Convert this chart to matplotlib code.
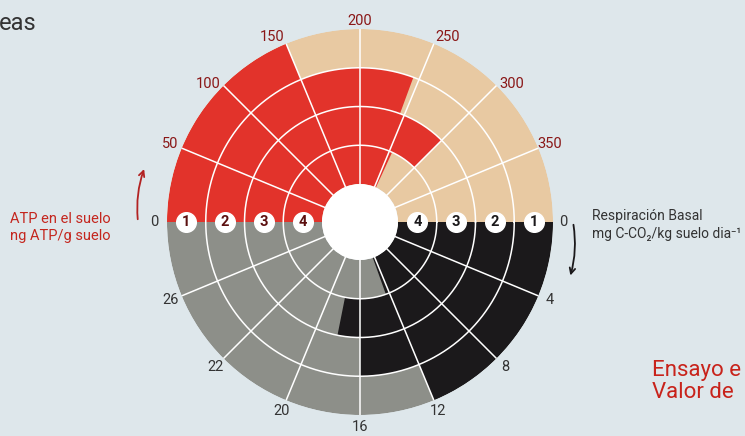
import matplotlib

matplotlib.use("Agg")
import matplotlib.pyplot as plt
import numpy as np

# ring labels, outermost first
rings = ["1", "2", "3", "4"]

# ATP en el suelo (top half), ng ATP/g suelo
atp_values = [150, 245, 300, 255]
atp_ticks = [0, 50, 100, 150, 200, 250, 300, 350]
atp_span = 400

# Respiracion basal (bottom half), mg C-CO2/kg suelo dia-1
resp_values = [12, 16, 18, 12.5]
resp_ticks = [0, 4, 8, 12, 16, 20, 24, 28]
resp_tick_labels = ["0", "4", "8", "12", "16", "20", "22", "26"]
resp_span = 32

BG = "#dee7eb"
RED = "#e2332b"
TAN = "#e8c9a2"
GRAY = "#8d8f89"
BLACK = "#1b191b"
DARK_RED = "#8a1717"
LABEL_RED = "#c4261e"
TEXT = "#333333"

W_PX, H_PX = 745, 436
CX, CY = 360, 222
R_OUT = 193
HOLE = 38
RING_W = (R_OUT - HOLE) / len(rings)
LAB_R = 205
FONT = ["Roboto", "DejaVu Sans"]


def atp_theta(v):
    return np.pi * (1 - v / atp_span)


def resp_theta(v):
    return -np.pi * v / resp_span


def main() -> None:
    plt.rcParams["font.family"] = FONT
    fig = plt.figure(figsize=(W_PX / 100, H_PX / 100), dpi=100)
    fig.patch.set_facecolor(BG)

    rect = [
        (CX - R_OUT) / W_PX,
        1 - (CY + R_OUT) / H_PX,
        2 * R_OUT / W_PX,
        2 * R_OUT / H_PX,
    ]
    ax = fig.add_axes(rect, projection="polar")
    ax.set_ylim(0, R_OUT)
    ax.set_axis_off()

    # half backgrounds
    ax.bar(np.pi / 2, R_OUT - HOLE, width=np.pi, bottom=HOLE, color=TAN, linewidth=0)
    ax.bar(-np.pi / 2, R_OUT - HOLE, width=np.pi, bottom=HOLE, color=GRAY, linewidth=0)

    for i, (a, r) in enumerate(zip(atp_values, resp_values)):
        bottom = R_OUT - (i + 1) * RING_W
        t0 = atp_theta(a)
        ax.bar(t0, RING_W, width=np.pi - t0, bottom=bottom, align="edge",
               color=RED, linewidth=0)
        t1 = resp_theta(r)
        ax.bar(t1, RING_W, width=-t1, bottom=bottom, align="edge",
               color=BLACK, linewidth=0)

    # grid
    th = np.linspace(0, 2 * np.pi, 500)
    for i in range(1, len(rings)):
        ax.plot(th, np.full_like(th, R_OUT - i * RING_W), color="white", lw=1.1)
    for t in atp_ticks[1:]:
        a = atp_theta(t)
        ax.plot([a, a], [HOLE, R_OUT], color="white", lw=1.1)
    for t in resp_ticks[1:]:
        a = resp_theta(t)
        ax.plot([a, a], [HOLE, R_OUT], color="white", lw=1.1)

    # centre hole
    ax.bar(0, HOLE, width=2 * np.pi, bottom=0, color="white", linewidth=0)

    # ring badges
    for i, lab in enumerate(rings):
        rm = R_OUT - (i + 0.5) * RING_W
        for theta, col in ((np.pi, "#5c1010"), (0.0, BLACK)):
            ax.scatter([theta], [rm], s=200, color="white", zorder=5, clip_on=False)
            ax.text(theta, rm, lab, ha="center", va="center", fontsize=10.5,
                    fontweight="bold", color=col, zorder=6)

    # tick labels
    ax.text(np.pi, LAB_R + 1, "0", ha="center", va="center", fontsize=10.5,
            color=TEXT)
    for t in atp_ticks[1:]:
        a = atp_theta(t)
        if np.radians(30) < a < np.radians(150) and t != 200:
            a += np.radians(2.8) * np.sign(a - np.pi / 2)
        rr = LAB_R - 4 if t == 200 else LAB_R
        ax.text(a, rr, str(t), ha="center", va="center", fontsize=10.5,
                color=DARK_RED)
    ax.text(0, LAB_R - 2, "0", ha="center", va="center", fontsize=10.5,
            color=TEXT)
    for t, lab in zip(resp_ticks[1:], resp_tick_labels[1:]):
        ax.text(resp_theta(t), LAB_R, lab, ha="center", va="center",
                fontsize=10.5, color=TEXT)

    # direction arrows
    ax.annotate("", xy=(np.radians(165.5), 222), xytext=(np.pi, 222),
                arrowprops=dict(arrowstyle="->", color="#b22222", lw=1.3,
                                connectionstyle="arc3,rad=-0.12"),
                annotation_clip=False)
    ax.annotate("", xy=(np.radians(-15), 217), xytext=(0, 213),
                arrowprops=dict(arrowstyle="->", color=BLACK, lw=1.3,
                                connectionstyle="arc3,rad=-0.12"),
                annotation_clip=False)

    def fx(px):
        return px / W_PX

    def fy(py):
        return 1 - py / H_PX

    fig.text(fx(60), fy(219), "ATP en el suelo", ha="center", va="center",
             fontsize=10.5, color=LABEL_RED)
    fig.text(fx(60), fy(236), "ng ATP/g suelo", ha="center", va="center",
             fontsize=10.5, color=LABEL_RED)
    fig.text(fx(592), fy(216), "Respiración Basal", ha="left", va="center",
             fontsize=10, color=TEXT)
    fig.text(fx(592), fy(234), "mg C-CO₂/kg suelo dia⁻¹", ha="left",
             va="center", fontsize=10, color=TEXT)
    fig.text(fx(-1), fy(23), "eas", ha="left", va="center", fontsize=17,
             color=TEXT)
    fig.text(fx(652), fy(370), "Ensayo e", ha="left", va="center",
             fontsize=16, color="#c8231b")
    fig.text(fx(652), fy(392), "Valor de", ha="left", va="center",
             fontsize=16, color="#c8231b")

    fig.savefig("out.png", dpi=100, facecolor=BG)
    plt.close(fig)


if __name__ == "__main__":
    main()
